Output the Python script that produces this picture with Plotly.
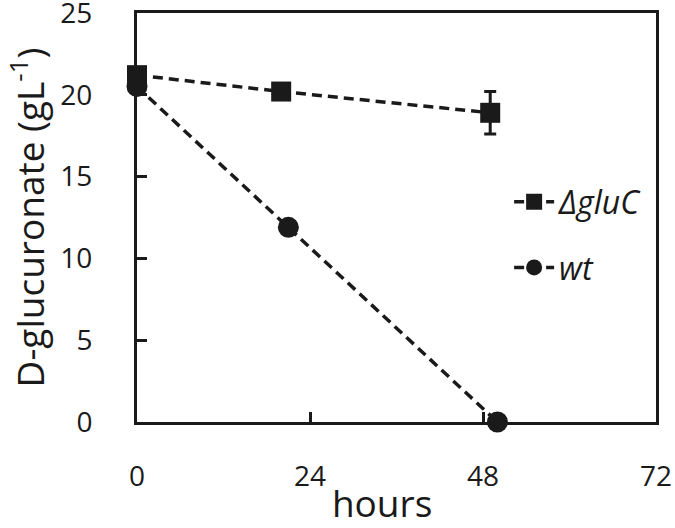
import plotly.graph_objects as go

# Data
hours_gluC = [0, 20, 49]
gluc_gluC = [21.2, 20.2, 18.9]
err_gluC = [0.4, 0.3, 1.3]

hours_wt = [0, 21, 50]
gluc_wt = [20.5, 11.9, 0.0]
err_wt = [0.2, 0.2, 0.0]

x_ticks = [0, 24, 48, 72]
y_ticks = [0, 5, 10, 15, 20, 25]

FONT = "Open Sans"
INK = "#1a1a1a"

fig = go.Figure()
fig.add_trace(go.Scatter(
    x=hours_gluC, y=gluc_gluC, name="<i>ΔgluC</i>", mode="lines+markers",
    legendgroup="a",
    line=dict(color=INK, width=3.5, dash="10px,6px"),
    marker=dict(symbol="square", size=20, color=INK),
    error_y=dict(type="data", array=err_gluC, visible=True, color=INK, thickness=3, width=6),
    cliponaxis=False,
))
fig.add_trace(go.Scatter(
    x=hours_wt, y=gluc_wt, name="<i>wt</i>", mode="lines+markers",
    legendgroup="b",
    line=dict(color=INK, width=3.5, dash="10px,6px"),
    marker=dict(symbol="circle", size=21, color=INK),
    error_y=dict(type="data", array=err_wt, visible=True, color=INK, thickness=2, width=6),
    cliponaxis=False,
))

fig.update_layout(
    width=675, height=528,
    margin=dict(l=137, r=19, t=13, b=106, autoexpand=False),
    paper_bgcolor="white", plot_bgcolor="white",
    font=dict(family=FONT, size=28, color=INK),
    showlegend=True,
    legend=dict(
        x=0.717, y=0.605, xanchor="left", yanchor="top",
        bgcolor="rgba(0,0,0,0)", font=dict(size=32, family=FONT, color=INK),
        traceorder="grouped", tracegroupgap=21, itemwidth=40,
    ),
    xaxis=dict(
        range=[0, 72], tickvals=x_ticks, ticktext=[str(v) for v in x_ticks],
        showline=True, linecolor=INK, linewidth=3, mirror=True,
        ticks="inside", ticklen=10, tickwidth=3, tickcolor=INK,
        ticklabelstandoff=27, ticklabeloverflow="allow", automargin=False,
        showgrid=False, zeroline=False,
        title=dict(text="hours&nbsp;&nbsp;&nbsp;", font=dict(size=37, family=FONT), standoff=2),
    ),
    yaxis=dict(
        range=[0, 25], tickvals=y_ticks, ticktext=[str(v) for v in y_ticks],
        showline=True, linecolor=INK, linewidth=3, mirror=True,
        ticks="inside", ticklen=10, tickwidth=3, tickcolor=INK,
        ticklabelstandoff=36, ticklabeloverflow="allow", automargin=False,
        showgrid=False, zeroline=False,
        title=dict(text="D-glucuronate (gL<sup>-1</sup>)", font=dict(size=37, family=FONT), standoff=16),
    ),
)

fig.write_html("out.html", config={"displayModeBar": False},
               post_script="document.body.style.margin='0px';")
